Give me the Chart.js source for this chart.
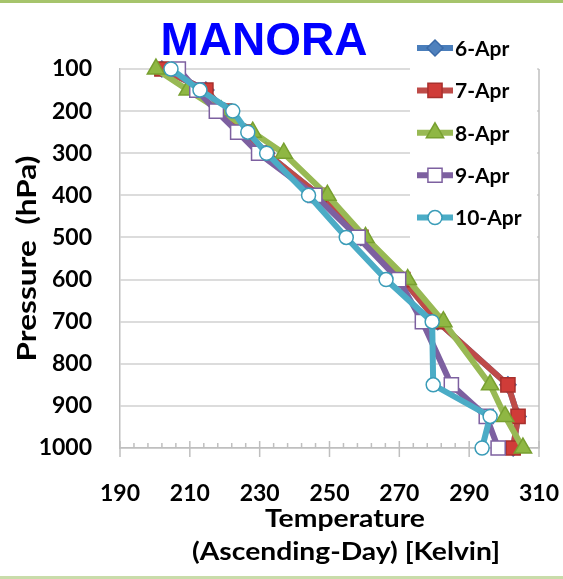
<!DOCTYPE html>
<html>
<head>
<meta charset="utf-8">
<script src="https://cdn.jsdelivr.net/npm/chart.js@4/dist/chart.umd.min.js"></script>
<style>
body{margin:0;background:#fff;}
canvas{display:block;}
</style>
</head>
<body>
<canvas id="manoraChart" width="563" height="579"></canvas>
<script>
/* =========================
   Data: upper air soundings
========================= */

const pressure = [100,150,200,250,300,400,500,600,700,850,925,1000];

const seriesNames = ["6-Apr","7-Apr","8-Apr","9-Apr","10-Apr"];

const temp6 = [202,214.6,220,226,232,247,259,271,281,301.1,304,302.6];
const temp7 = [202,214.6,220,226,232,247,259,271,281,301.1,304,302.6];
const temp8 = [200.3,209.4,219,228,236.9,249.4,260.3,272.4,282.6,296,300.3,305.4];
const temp9 = [206.7,212,217.6,223.7,229.7,245.8,258.2,269.8,276.6,284.9,294.9,298.3];
const temp10 = [204.6,212.9,222.3,226.6,232,244,254.8,266.2,279.4,279.7,296,293.7];

const xTicks = [190,210,230,250,270,290,310];
const yTicks = [100,200,300,400,500,600,700,800,900,1000];

const FONT = "Lato";

/* =========================
   Styles per series
========================= */

const styles = [
 {line:"#4a7ebb", fill:"#4f81bd", edge:"#3a6aa8", shape:"rectRot", r:8},
 {line:"#be4b48", fill:"#d03c38", edge:"#a8302d", shape:"rect", r:10},
 {line:"#98b954", fill:"#8fb743", edge:"#78a030", shape:"triangle", r:10},
 {line:"#7d60a0", fill:"#ffffff", edge:"#7d60a0", shape:"rect", r:10},
 {line:"#4bacc6", fill:"#ffffff", edge:"#3a9cb8", shape:"circle", r:7}
];

const allTemps = [temp6,temp7,temp8,temp9,temp10];

function toPoints(t){
 return t.map((v,i)=>({x:v,y:pressure[i]}));
}

let datasets = allTemps.map((t,i)=>({
 label:seriesNames[i],
 data:toPoints(t),
 showLine:true,
 borderColor:styles[i].line,
 borderWidth:6,
 pointStyle:styles[i].shape,
 pointRadius:styles[i].r,
 pointBackgroundColor:styles[i].fill,
 pointBorderColor:styles[i].edge,
 pointBorderWidth:1.5,
 order:4-i,
 clip:false
}));

// writes text so it spans a given width (keeps sizes close to the picture)
function fitText(ctx, text, x, y, width, size){
 ctx.font = "bold " + size + "px " + FONT;
 let w = ctx.measureText(text).width;
 ctx.save();
 ctx.translate(x, y);
 ctx.scale(width / w, 1);
 ctx.fillText(text, 0, 0);
 ctx.restore();
}

/* =========================
   Extra drawing (title, legend, ticks)
========================= */

const decor = {
 id:"decor",
 beforeDatasetsDraw(chart){
  let ctx = chart.ctx;
  let xs = chart.scales.x;
  let a = chart.chartArea;
  ctx.save();
  ctx.strokeStyle = "#bfbfbf";
  ctx.lineWidth = 1.5;
  // right border
  ctx.beginPath();
  ctx.moveTo(a.right, a.top);
  ctx.lineTo(a.right, a.bottom);
  ctx.stroke();
  // ticks on x axis
  for(let v=190; v<=310; v+=4){
   let px = xs.getPixelForValue(v);
   ctx.beginPath();
   if(xTicks.includes(v)){
    ctx.moveTo(px, a.bottom-7);
    ctx.lineTo(px, a.bottom+9);
   }else{
    ctx.moveTo(px, a.bottom-5);
    ctx.lineTo(px, a.bottom);
   }
   ctx.stroke();
  }
  // legend background
  ctx.fillStyle = "#ffffff";
  ctx.fillRect(410, 24, 127, 218);
  ctx.restore();
 },
 afterDraw(chart){
  let ctx = chart.ctx;
  let a = chart.chartArea;
  ctx.save();
  // frame lines
  ctx.fillStyle = "#a6c46c";
  ctx.fillRect(0,0,563,3);
  ctx.fillStyle = "#c9dcaa";
  ctx.fillRect(0,576,563,3);
  // title
  ctx.fillStyle = "#0000ff";
  ctx.font = "bold 46px 'Liberation Sans'";
  ctx.textAlign = "center";
  ctx.textBaseline = "alphabetic";
  ctx.fillText("MANORA", 264, 55);
  // x axis title
  ctx.fillStyle = "#000";
  ctx.textBaseline = "middle";
  fitText(ctx, "Temperature", 345, 519, 160, 25);
  fitText(ctx, "(Ascending-Day) [Kelvin]", 346, 552, 308, 25);
  // y axis title
  ctx.save();
  ctx.translate(28, (a.top+a.bottom)/2);
  ctx.rotate(-Math.PI/2);
  fitText(ctx, "Pressure  (hPa)", 0, 0, 206, 26);
  ctx.restore();
  // legend
  ctx.textAlign = "left";
  seriesNames.forEach((name,i)=>{
   let y = 48 + i*42.4;
   let s = styles[i];
   ctx.strokeStyle = s.line;
   ctx.lineWidth = 6;
   ctx.beginPath();
   ctx.moveTo(417, y);
   ctx.lineTo(453, y);
   ctx.stroke();
   ctx.fillStyle = s.fill;
   ctx.strokeStyle = s.edge;
   ctx.lineWidth = 1.5;
   Chart.helpers.drawPoint(ctx, {pointStyle:s.shape, radius:s.r, rotation:0, borderWidth:1.5}, 435, y);
   ctx.fillStyle = "#000";
   ctx.font = "bold 21px " + FONT;
   ctx.fillText(name, 455, y+1);
  });
  ctx.restore();
 }
};

/* =========================
   Chart
========================= */

new Chart(document.getElementById("manoraChart"),{
 type:"scatter",
 data:{datasets:datasets},
 options:{
  responsive:false,
  animation:false,
  layout:{padding:{top:69,right:24,left:0,bottom:0}},
  plugins:{legend:{display:false},tooltip:{enabled:false}},
  scales:{
   x:{
    type:"linear",
    min:190,
    max:310,
    afterBuildTicks(s){ s.ticks = xTicks.map(v=>({value:v})); },
    afterFit(s){ s.height = 131; s.paddingLeft = 0; s.paddingRight = 0; },
    grid:{display:false},
    border:{display:true,color:"#bfbfbf",width:1.5},
    ticks:{color:"#000",padding:24,callback:v=>String(v),font:{family:FONT,size:23,weight:"bold"}}
   },
   y:{
    type:"linear",
    reverse:true,
    min:100,
    max:1000,
    afterBuildTicks(s){ s.ticks = yTicks.map(v=>({value:v})); },
    afterFit(s){ s.width = 120; s.paddingTop = 0; s.paddingBottom = 0; },
    grid:{color:"#dcdcdc",lineWidth:2,drawTicks:false},
    border:{display:true,color:"#bfbfbf",width:1.5},
    ticks:{color:"#000",padding:28,callback:v=>String(v),font:{family:FONT,size:23,weight:"bold"}}
   }
  }
 },
 plugins:[decor]
});
</script>
</body>
</html>
